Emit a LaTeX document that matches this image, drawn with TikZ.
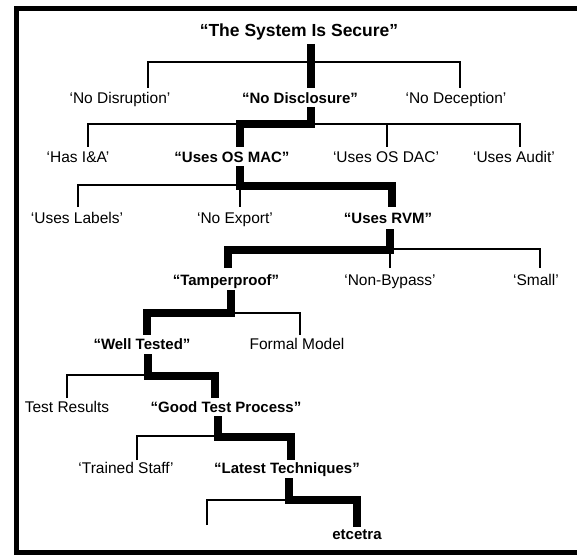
\documentclass[tikz,border=0pt]{standalone}
\usepackage{fontspec}
\setmainfont{Liberation Sans}
\usetikzlibrary{calc}
\tikzset{
  lbl/.style={font=\fontsize{15.5}{18}\selectfont, inner sep=0pt, anchor=base},
  blbl/.style={font=\bfseries\fontsize{15}{18}\selectfont, inner sep=0pt, anchor=base},
  twig/.style={line width=2pt, line join=miter},
  trunk/.style={line width=8pt, line join=miter},
  frame/.style={line width=5pt}
}
\begin{document}
\begin{tikzpicture}[x=1pt,y=-1pt]
\useasboundingbox (0,0) rectangle (577,556);
% frame
\draw[frame] (577,9) -- (16,9) -- (16,552) -- (577,552);
% nodes (placed by baseline)
\node[blbl, font=\bfseries\fontsize{17.5}{20}\selectfont] (title) at (299,36.3) {“The System Is Secure”};
\node[lbl]  (nodisr)  at (120,103.5) {‘No Disruption’};
\node[blbl] (nodiscl) at (300,103.5) {“No Disclosure”};
\node[lbl]  (nodec)   at (456,103.5) {‘No Deception’};
\node[lbl]  (hasia)   at (78,162.5) {‘Has I\&A’};
\node[blbl] (osmac)   at (232,162.5) {“Uses OS MAC”};
\node[lbl]  (osdac)   at (386,162.5) {‘Uses OS DAC’};
\node[lbl]  (audit)   at (514,162.5) {‘Uses Audit’};
\node[lbl]  (labels)  at (77,223.5) {‘Uses Labels’};
\node[lbl]  (noexp)   at (235,223.5) {‘No Export’};
\node[blbl] (rvm)     at (388,223.5) {“Uses RVM”};
\node[blbl] (tamper)  at (226,285.5) {“Tamperproof”};
\node[lbl]  (nonbyp)  at (390,285.5) {‘Non-Bypass’};
\node[lbl]  (small)   at (536,285.5) {‘Small’};
\node[blbl] (welltest) at (142,349.5) {“Well Tested”};
\node[lbl]  (formal)  at (297,349.5) {Formal Model};
\node[lbl]  (testres) at (67,412.5) {Test Results};
\node[blbl] (goodtp)  at (226,412.5) {“Good Test Process”};
\node[lbl]  (trained) at (126,473.5) {‘Trained Staff’};
\node[blbl] (latest)  at (287,473.5) {“Latest Techniques”};
\node[blbl] (etc)     at (357,539) {etcetra};
\coordinate (blank) at (207,525);
% level 1
\draw[twig] ($(nodisr.base)+(28,-15.5)$) |- ($(nodec.base)+(4,-41.5)$) -- ($(nodec.base)+(4,-15.5)$);
\draw[trunk] ($(title.base)+(12,7.7)$) -- ($(nodiscl.base)+(11,-15.5)$);
% level 2
\draw[twig] ($(hasia.base)+(10,-15.5)$) |- ($(audit.base)+(6,-38.5)$) -- ($(audit.base)+(6,-15.5)$);
\draw[twig] ($(osdac.base)+(1,-38.5)$) -- ($(osdac.base)+(1,-15.5)$);
\draw[trunk] ($(nodiscl.base)+(11,3.5)$) |- ($(osmac.base)+(8,-38.5)$) -- ($(osmac.base)+(8,-15.5)$);
% level 3
\draw[twig] ($(labels.base)+(1,-16.5)$) |- ($(rvm.base)+(4,-38.5)$);
\draw[twig] ($(noexp.base)+(5,-38.5)$) -- ($(noexp.base)+(5,-16.5)$);
\draw[trunk] ($(osmac.base)+(8,3.5)$) |- ($(rvm.base)+(4,-37.5)$) -- ($(rvm.base)+(4,-16.5)$);
% level 4
\draw[twig] ($(nonbyp.base)+(0,-17.5)$) |- ($(small.base)+(4,-36.5)$) -- ($(small.base)+(4,-17.5)$);
\draw[trunk] ($(rvm.base)+(2,5.5)$) |- ($(tamper.base)+(2,-35.5)$) -- ($(tamper.base)+(2,-17.5)$);
% level 5
\draw[twig] ($(formal.base)+(3,-14.5)$) |- ($(tamper.base)+(5,27.5)$);
\draw[trunk] ($(tamper.base)+(5,4.5)$) |- ($(welltest.base)+(5,-36.5)$) -- ($(welltest.base)+(5,-14.5)$);
% level 6
\draw[twig] ($(testres.base)+(0,-14.5)$) |- ($(welltest.base)+(6,25.5)$);
\draw[trunk] ($(welltest.base)+(6,4.5)$) |- ($(goodtp.base)+(-11,-36.5)$) -- ($(goodtp.base)+(-11,-14.5)$);
% level 7
\draw[twig] ($(trained.base)+(11,-13.5)$) |- ($(goodtp.base)+(-8,23.5)$);
\draw[trunk] ($(goodtp.base)+(-8,3.5)$) |- ($(latest.base)+(4,-36.5)$) -- ($(latest.base)+(4,-13.5)$);
% level 8
\draw[twig] (blank) |- ($(latest.base)+(2,26.5)$);
\draw[trunk] ($(latest.base)+(2,4.5)$) |- ($(etc.base)+(0,-39)$) -- ($(etc.base)+(0,-12)$);
\end{tikzpicture}
\end{document}
